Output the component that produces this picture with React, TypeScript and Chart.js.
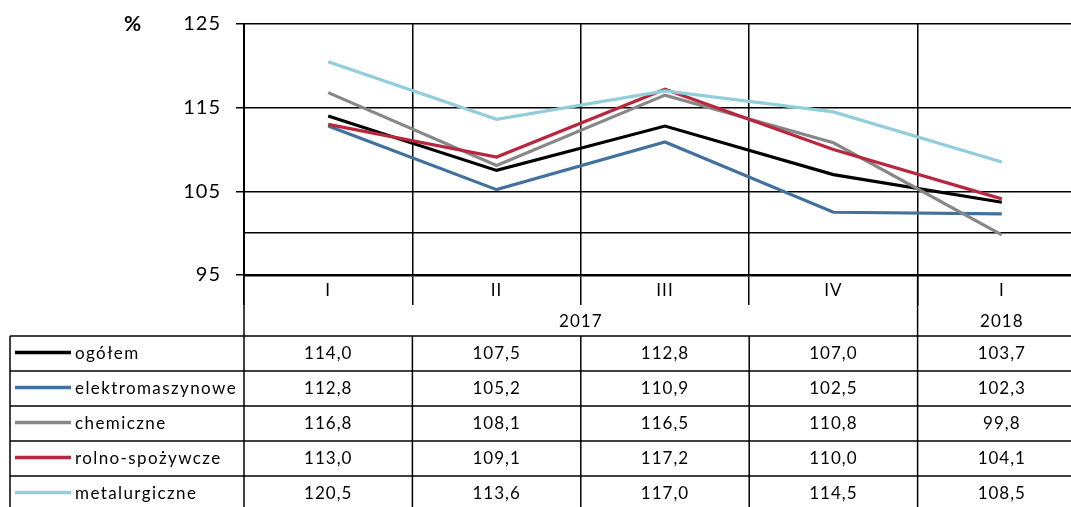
import React, { useEffect, useRef } from "react";
import { Chart, registerables } from "chart.js";

Chart.register(...registerables);

const categories = ["I", "II", "III", "IV", "I"];
const yearLabels = ["2017", "2018"];
const seriesNames = ["ogółem", "elektromaszynowe", "chemiczne", "rolno-spożywcze", "metalurgiczne"];
const ogolem = [114.0, 107.5, 112.8, 107.0, 103.7];
const elektromaszynowe = [112.8, 105.2, 110.9, 102.5, 102.3];
const chemiczne = [116.8, 108.1, 116.5, 110.8, 99.8];
const rolnoSpozywcze = [113.0, 109.1, 117.2, 110.0, 104.1];
const metalurgiczne = [120.5, 113.6, 117.0, 114.5, 108.5];
const seriesColors = ["#000000", "#41719C", "#878787", "#B7283E", "#92CDDC"];
const labeledTicks = [95, 105, 115, 125];
const gridTicks = [95, 100, 105, 115, 125];

const FONT = "Lato, 'Noto Sans', sans-serif";

const fmt = (v: number) => v.toFixed(1).replace(".", ",");

export default function App() {
  const ref = useRef<HTMLCanvasElement | null>(null);

  useEffect(() => {
    if (!ref.current) return;
    const allSeries = [ogolem, elektromaszynowe, chemiczne, rolnoSpozywcze, metalurgiczne];

    const spacingPlugin = {
      id: "spacingPlugin",
      beforeDraw(chart: any) {
        (chart.ctx as any).letterSpacing = "1px";
      },
      beforeDatasetsDraw(chart: any) {
        (chart.ctx as any).letterSpacing = "0px";
      },
    };

    const tablePlugin = {
      id: "tablePlugin",
      afterDraw(chart: any) {
        const ctx = chart.ctx as CanvasRenderingContext2D;
        const xs = chart.scales.x;
        const area = chart.chartArea;
        const centers = categories.map((_, i) => xs.getPixelForValue(i));
        const half = (centers[1] - centers[0]) / 2;
        const bounds = [centers[0] - half, ...centers.map((c) => c + half)];
        const tableLeft = 10;
        const tableTop = 336;
        const rowH = 35;
        const tableBottom = tableTop + rowH * seriesNames.length;
        const right = area.right;

        ctx.save();
        ctx.strokeStyle = "#000";
        ctx.lineWidth = 1.5;
        for (let k = 0; k <= seriesNames.length; k++) {
          const y = tableTop + k * rowH;
          ctx.beginPath();
          ctx.moveTo(tableLeft, y);
          ctx.lineTo(right, y);
          ctx.stroke();
        }
        ctx.beginPath();
        ctx.moveTo(tableLeft, tableTop);
        ctx.lineTo(tableLeft, tableBottom);
        ctx.stroke();
        bounds.forEach((b, i) => {
          const top = i === 0 || i === 4 ? area.bottom : tableTop;
          ctx.beginPath();
          ctx.moveTo(b, top);
          ctx.lineTo(b, tableBottom);
          ctx.stroke();
        });

        ctx.fillStyle = "#000";
        ctx.textBaseline = "middle";
        ctx.textAlign = "center";
        ctx.font = `17px ${FONT}`;
        (ctx as any).letterSpacing = "1px";
        categories.forEach((c, i) => {
          ctx.fillText(c, centers[i], 291);
        });
        ctx.fillText(yearLabels[0], (bounds[0] + bounds[4]) / 2, 322);
        ctx.fillText(yearLabels[1], (bounds[4] + bounds[5]) / 2, 322);

        seriesNames.forEach((name, r) => {
          const yc = tableTop + r * rowH + rowH / 2;
          ctx.strokeStyle = seriesColors[r];
          ctx.lineWidth = 3.5;
          ctx.beginPath();
          ctx.moveTo(15, yc - 1);
          ctx.lineTo(71, yc - 1);
          ctx.stroke();
          ctx.fillStyle = "#000";
          ctx.textAlign = "left";
          ctx.font = `17px ${FONT}`;
          (ctx as any).letterSpacing = "1.4px";
          ctx.fillText(name, 75, yc);
          ctx.textAlign = "center";
          (ctx as any).letterSpacing = "1px";
          allSeries[r].forEach((v, i) => {
            ctx.fillText(fmt(v), centers[i], yc);
          });
        });

        (ctx as any).letterSpacing = "0px";
        ctx.font = `bold 21px ${FONT}`;
        ctx.textAlign = "center";
        ctx.fillText("%", 132.5, 24);
        ctx.restore();
      },
    };

    const chart = new Chart(ref.current, {
      type: "line",
      data: {
        labels: categories,
        datasets: allSeries.map((d, i) => ({
          label: seriesNames[i],
          data: d,
          borderColor: seriesColors[i],
          backgroundColor: seriesColors[i],
          borderWidth: 3.2,
          pointRadius: 0,
          tension: 0,
          fill: false,
          order: seriesNames.length - i,
        })),
      },
      options: {
        animation: false,
        responsive: false,
        maintainAspectRatio: false,
        layout: { padding: { top: 24, right: 14, left: 0, bottom: 0 } },
        plugins: { legend: { display: false }, tooltip: { enabled: false } },
        scales: {
          x: {
            type: "category",
            offset: true,
            afterFit: (s: any) => {
              s.height = 245;
              s.paddingLeft = 0;
              s.paddingRight = 0;
            },
            ticks: { display: false },
            grid: {
              color: "#000",
              lineWidth: 1.5,
              offset: true,
              drawTicks: true,
              tickLength: 30,
            },
            border: { display: true, color: "#000", width: 2.5 },
          },
          y: {
            min: 95,
            max: 125,
            afterFit: (s: any) => {
              s.width = 244;
              s.paddingTop = 0;
              s.paddingBottom = 0;
            },
            ticks: {
              stepSize: 5,
              padding: 15,
              color: "#000",
              font: { size: 20, family: FONT },
              callback: (v: any) => (labeledTicks.includes(Number(v)) ? String(v) : ""),
            },
            grid: {
              lineWidth: 1.5,
              tickLength: 8,
              color: (c: any) => (gridTicks.includes(c.tick?.value) ? "#000" : "rgba(0,0,0,0)"),
              tickColor: (c: any) => (labeledTicks.includes(c.tick?.value) ? "#000" : "rgba(0,0,0,0)"),
            },
            border: { display: true, color: "#000", width: 2 },
          },
        },
      },
      plugins: [spacingPlugin, tablePlugin],
    });
    return () => chart.destroy();
  }, []);

  return (
    <div
      style={{
        position: "fixed",
        left: 0,
        top: 0,
        width: 1071,
        height: 507,
        overflow: "hidden",
        background: "#fff",
      }}
    >
      <canvas ref={ref} width={1100} height={520} style={{ width: 1100, height: 520, display: "block" }} />
    </div>
  );
}
